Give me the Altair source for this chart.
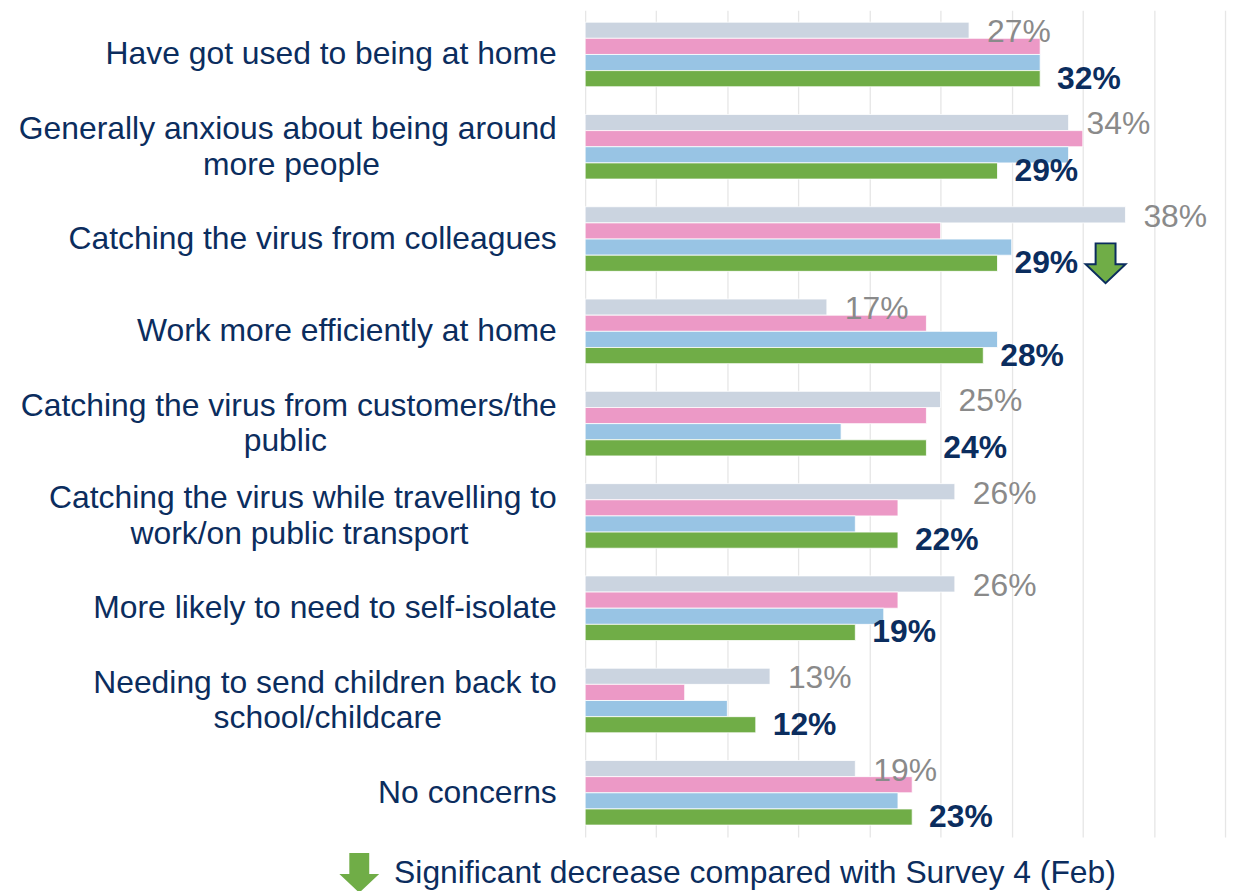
import altair as alt
import pandas as pd

# ---------------- data ----------------
category_lines = [
    ["Have got used to being at home"],
    ["Generally anxious about being around", "more people"],
    ["Catching the virus from colleagues"],
    ["Work more efficiently at home"],
    ["Catching the virus from customers/the", "public"],
    ["Catching the virus while travelling to", "work/on public transport"],
    ["More likely to need to self-isolate"],
    ["Needing to send children back to", "school/childcare"],
    ["No concerns"],
]
series = ["Survey 4 (Feb)", "Survey 5", "Survey 6", "Survey 7"]
grey_vals = [27, 34, 38, 17, 25, 26, 26, 13, 19]
pink_vals = [32, 35, 25, 24, 24, 22, 22, 7, 23]
blue_vals = [32, 34, 30, 29, 18, 19, 21, 10, 22]
green_vals = [32, 29, 29, 28, 24, 22, 19, 12, 23]
sig_decrease = [False, False, True, False, False, False, False, False, False]
sig_label = "Significant decrease compared with Survey 4 (Feb)"

colors = ["#CBD4E0", "#EC99C6", "#98C4E4", "#70AD47"]
NAVY = "#0B2D5E"
GREY_TXT = "#8A8A8A"
FONT = "Liberation Sans"

# trailing no-break spaces (closed by a word joiner so they are not trimmed)
# to centre a second label line under the first one
second_line_pad = {"more people": 20, "public": 26,
                   "work/on public transport": 10, "school/childcare": 13}

categories = [" ".join(l) for l in category_lines]
rows = []
for i, cat in enumerate(categories):
    for s, vals in zip(series, [grey_vals, pink_vals, blue_vals, green_vals]):
        rows.append({"category": cat, "series": s, "value": vals[i],
                     "label": f"{vals[i]}%"})
df = pd.DataFrame(rows)

arrow_rows = [{"category": c, "series": series[-1], "pos": green_vals[i] + 7.6,
               "sig": sig_label}
              for i, c in enumerate(categories) if sig_decrease[i]]
arrow_df = pd.DataFrame(arrow_rows)

# label expression producing multi-line labels
expr = "datum.value"
multi = []
for lines, cat in zip(reversed(category_lines), reversed(categories)):
    if len(lines) > 1:
        multi.append(cat)
        l2 = lines[1] + "\u00a0" * second_line_pad.get(lines[1], 0) + "\u2060"
        arr = "[" + ", ".join("'" + t + "'" for t in [lines[0], l2]) + "]"
        expr = f"datum.value == '{cat}' ? {arr} : ({expr})"
multi_test = "indexof([" + ", ".join("'" + c + "'" for c in multi) + "], datum.value) >= 0"

arrow_path = "M-0.5,-1L0.5,-1L0.5,0.05L1,0.05L0,1L-1,0.05L-0.5,0.05Z"

y_enc = alt.Y("category:N", sort=categories,
              scale=alt.Scale(domain=categories, paddingInner=0.3, paddingOuter=0.13),
              axis=alt.Axis(title=None, ticks=False, domain=False, grid=False,
                            labelFont=FONT, labelFontSize=32, labelColor=NAVY,
                            labelPadding=29, labelLimit=1000, labelLineHeight=36,
                            labelOffset={"condition": {"test": multi_test, "value": -18},
                                         "value": 0},
                            labelExpr=expr))
yoff_enc = alt.YOffset("series:N", sort=series,
                       scale=alt.Scale(domain=series, paddingInner=0, paddingOuter=0))
x_scale = alt.Scale(domain=[0, 45], nice=False, zero=True)
x_axis = alt.Axis(title=None, labels=False, ticks=False, domain=False,
                  values=list(range(0, 50, 5)), grid=True,
                  gridColor="#E6E6E6", gridWidth=1.3)

bars = alt.Chart(df).mark_bar(stroke="white", strokeWidth=0.8).encode(
    x=alt.X("value:Q", scale=x_scale, axis=x_axis),
    y=y_enc,
    yOffset=yoff_enc,
    color=alt.Color("series:N", scale=alt.Scale(domain=series, range=colors), legend=None),
)

grey_text = alt.Chart(df).transform_filter(
    alt.datum.series == series[0]
).mark_text(align="left", baseline="middle", dx=18, dy=2, font=FONT,
            fontSize=32, color=GREY_TXT).encode(
    x=alt.X("value:Q", scale=x_scale), y=y_enc, yOffset=yoff_enc, text="label:N")

green_text = alt.Chart(df).transform_filter(
    alt.datum.series == series[-1]
).mark_text(align="left", baseline="middle", dx=17, dy=0, font=FONT,
            fontSize=32, fontWeight="bold", color=NAVY).encode(
    x=alt.X("value:Q", scale=x_scale), y=y_enc, yOffset=yoff_enc, text="label:N")

legend = alt.Legend(title=None, orient="none", legendX=-248, legendY=846,
                    labelFont=FONT, labelFontSize=32, labelColor=NAVY,
                    labelLimit=1000,
                    symbolSize=1600, symbolStrokeColor=NAVY, symbolStrokeWidth=2,
                    labelOffset=14, padding=0, symbolOpacity=1)

arrows = alt.Chart(arrow_df).mark_point(filled=True, size=1600, stroke=NAVY,
                                        strokeWidth=2, opacity=1).encode(
    x=alt.X("pos:Q", scale=x_scale),
    y=y_enc,
    yOffset=yoff_enc,
    shape=alt.Shape("sig:N", scale=alt.Scale(domain=[sig_label], range=[arrow_path]),
                    legend=legend),
    fill=alt.Fill("sig:N", scale=alt.Scale(domain=[sig_label], range=["#70AD47"]),
                  legend=legend),
)

chart = alt.layer(bars, grey_text, green_text, arrows).properties(
    width=643, height=831,
    autosize=alt.AutoSizeParams(type="none"),
    padding={"left": 580, "top": 0, "right": 2, "bottom": 56},
).configure_view(stroke=None).resolve_scale(color="independent")

chart.save("out.html", embed_options={"renderer": "svg", "actions": False})
